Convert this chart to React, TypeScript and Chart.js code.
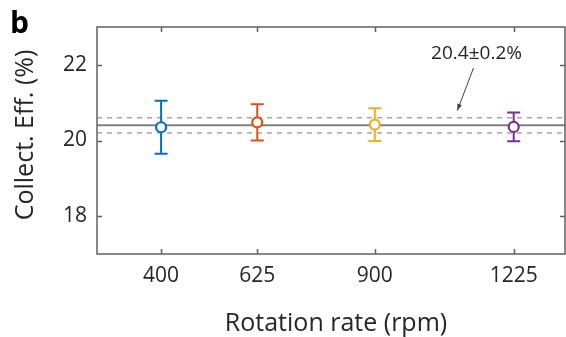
import React, { useEffect, useRef } from "react";
import { Chart, registerables } from "chart.js";

Chart.register(...registerables);

// Collection efficiency vs. electrode rotation rate
const rotationRates = [400, 625, 900, 1225];
const efficiency = [20.35, 20.48, 20.42, 20.36];
const efficiencyErr = [0.7, 0.48, 0.43, 0.38];
const seriesColors = ["#0072BD", "#D95319", "#EDB120", "#7E2F8E"];
const yTicks = [18, 20, 22];
const xRange = [250, 1345];
const yRange = [17, 23];

// Average over all rotation rates and its spread
const meanEff = 20.4;
const spreadEff = 0.2;
const meanLabel = "20.4\u00B10.2%";
// label anchor and arrow (data units)
const labelAt = { x: 1138, y: 22.3 };
const arrowFrom = { x: 1131, y: 21.92 };
const arrowTo = { x: 1093, y: 20.79 };

const FONT = "'Open Sans', 'Noto Sans', sans-serif";
const TEXT = "#262626";
const AXIS = "#606060";

const overlay = {
  id: "overlay",
  beforeDatasetsDraw(chart: any) {
    const { ctx, chartArea: a, scales } = chart;
    const xs = scales.x;
    const ys = scales.y;
    ctx.save();
    ctx.beginPath();
    ctx.rect(a.left, a.top, a.right - a.left, a.bottom - a.top);
    ctx.clip();

    // spread band (dashed) and mean (solid)
    ctx.strokeStyle = "#9a9a9a";
    ctx.lineWidth = 1.3;
    ctx.setLineDash([5, 5]);
    for (const v of [meanEff + spreadEff, meanEff - spreadEff]) {
      const y = ys.getPixelForValue(v);
      ctx.beginPath();
      ctx.moveTo(a.left, y);
      ctx.lineTo(a.right, y);
      ctx.stroke();
    }
    ctx.setLineDash([]);
    ctx.strokeStyle = "#7f7f7f";
    ctx.lineWidth = 2;
    const ym = ys.getPixelForValue(meanEff);
    ctx.beginPath();
    ctx.moveTo(a.left, ym);
    ctx.lineTo(a.right, ym);
    ctx.stroke();

    // error bars
    ctx.lineWidth = 2;
    rotationRates.forEach((r, i) => {
      const x = xs.getPixelForValue(r);
      const yHi = ys.getPixelForValue(efficiency[i] + efficiencyErr[i]);
      const yLo = ys.getPixelForValue(efficiency[i] - efficiencyErr[i]);
      ctx.strokeStyle = seriesColors[i];
      ctx.beginPath();
      ctx.moveTo(x, yHi);
      ctx.lineTo(x, yLo);
      ctx.moveTo(x - 6.5, yHi);
      ctx.lineTo(x + 6.5, yHi);
      ctx.moveTo(x - 6.5, yLo);
      ctx.lineTo(x + 6.5, yLo);
      ctx.stroke();
    });
    ctx.restore();
  },
  afterDraw(chart: any) {
    const { ctx, chartArea: a, scales } = chart;
    const xs = scales.x;
    const ys = scales.y;
    ctx.save();

    // axes box with inward ticks
    ctx.strokeStyle = AXIS;
    ctx.lineWidth = 1.5;
    ctx.strokeRect(a.left, a.top, a.right - a.left, a.bottom - a.top);
    ctx.beginPath();
    const tl = 5;
    rotationRates.forEach((r) => {
      const x = Math.round(xs.getPixelForValue(r)) + 0.5;
      ctx.moveTo(x, a.bottom);
      ctx.lineTo(x, a.bottom - tl);
      ctx.moveTo(x, a.top);
      ctx.lineTo(x, a.top + tl);
    });
    yTicks.forEach((v) => {
      const y = Math.round(ys.getPixelForValue(v)) + 0.5;
      ctx.moveTo(a.left, y);
      ctx.lineTo(a.left + tl, y);
      ctx.moveTo(a.right, y);
      ctx.lineTo(a.right - tl, y);
    });
    ctx.stroke();

    // annotation text and arrow
    ctx.fillStyle = TEXT;
    ctx.font = `19px ${FONT}`;
    ctx.textAlign = "center";
    ctx.textBaseline = "middle";
    ctx.fillText(meanLabel, xs.getPixelForValue(labelAt.x), ys.getPixelForValue(labelAt.y));
    const x0 = xs.getPixelForValue(arrowFrom.x);
    const y0 = ys.getPixelForValue(arrowFrom.y);
    const x1 = xs.getPixelForValue(arrowTo.x);
    const y1 = ys.getPixelForValue(arrowTo.y);
    ctx.strokeStyle = "#404040";
    ctx.lineWidth = 1;
    ctx.beginPath();
    ctx.moveTo(x0, y0);
    ctx.lineTo(x1, y1);
    ctx.stroke();
    const ang = Math.atan2(y1 - y0, x1 - x0);
    const hl = 7;
    const hw = 0.35;
    ctx.fillStyle = "#404040";
    ctx.beginPath();
    ctx.moveTo(x1, y1);
    ctx.lineTo(x1 - hl * Math.cos(ang - hw), y1 - hl * Math.sin(ang - hw));
    ctx.lineTo(x1 - hl * Math.cos(ang + hw), y1 - hl * Math.sin(ang + hw));
    ctx.closePath();
    ctx.fill();

    // axis titles
    ctx.fillStyle = TEXT;
    ctx.font = `25px ${FONT}`;
    ctx.textAlign = "center";
    ctx.textBaseline = "alphabetic";
    ctx.fillText("Rotation rate (rpm)", 336, 331);
    ctx.save();
    ctx.translate(33, 135);
    ctx.rotate(-Math.PI / 2);
    ctx.fillText("Collect. Eff. (%)", 0, 0);
    ctx.restore();

    // panel letter
    ctx.font = `bold 30px ${FONT}`;
    ctx.textAlign = "left";
    ctx.textBaseline = "alphabetic";
    ctx.fillStyle = "#000";
    ctx.fillText("b", 10, 33);
    ctx.restore();
  },
};

export default function App() {
  const ref = useRef<HTMLCanvasElement | null>(null);

  useEffect(() => {
    if (!ref.current) return;
    const chart = new Chart(ref.current, {
      type: "scatter",
      data: {
        datasets: [
          {
            data: rotationRates.map((r, i) => ({ x: r, y: efficiency[i] })),
            pointRadius: 5,
            pointBorderWidth: 2.2,
            pointBackgroundColor: "#ffffff",
            pointBorderColor: seriesColors,
            showLine: false,
          },
        ],
      },
      options: {
        animation: false,
        responsive: false,
        events: [],
        layout: { autoPadding: false, padding: { top: 27, right: 1, left: 0, bottom: 0 } },
        plugins: { legend: { display: false }, tooltip: { enabled: false } },
        scales: {
          x: {
            type: "linear",
            min: xRange[0],
            max: xRange[1],
            grid: { display: false, drawTicks: false },
            border: { display: false },
            afterBuildTicks: (s: any) => {
              s.ticks = rotationRates.map((v) => ({ value: v }));
            },
            afterFit: (s: any) => {
              s.height = 83;
            },
            ticks: {
              padding: 9,
              color: TEXT,
              font: { family: FONT, size: 21 },
              callback: (v: any) => String(v),
              maxRotation: 0,
            },
          },
          y: {
            min: yRange[0],
            max: yRange[1],
            grid: { display: false, drawTicks: false },
            border: { display: false },
            afterBuildTicks: (s: any) => {
              s.ticks = yTicks.map((v) => ({ value: v }));
            },
            afterFit: (s: any) => {
              s.width = 97;
            },
            ticks: {
              padding: 10,
              color: TEXT,
              font: { family: FONT, size: 21 },
              callback: (v: any) => String(v),
            },
          },
        },
      },
      plugins: [overlay],
    });
    return () => chart.destroy();
  }, []);

  return (
    <div style={{ position: "absolute", left: 0, top: 0, width: 566, height: 337, background: "#fff" }}>
      <canvas ref={ref} width={566} height={337} style={{ display: "block" }} />
    </div>
  );
}
